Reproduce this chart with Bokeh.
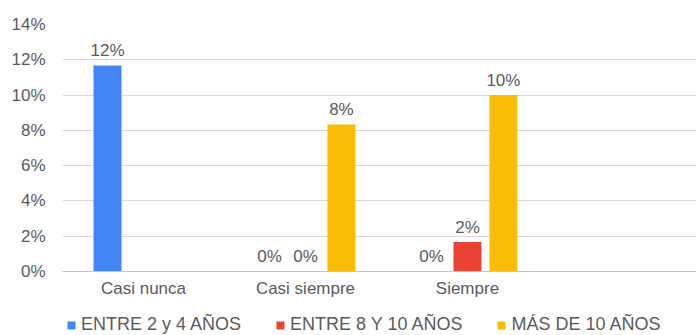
import math
from bokeh.plotting import figure
from bokeh.layouts import column
from bokeh.models import (Range1d, FixedTicker, ColumnDataSource, Legend, LegendItem,
                          NumeralTickFormatter)
from bokeh.core.properties import value
from bokeh.embed import file_html
from bokeh.resources import INLINE

categories = ["Casi nunca", "Casi siempre", "Siempre"]
series_names = ["ENTRE 2 y 4 AÑOS", "ENTRE 8 Y 10 AÑOS", "MÁS DE 10 AÑOS"]
entre_2_4 = [0.1167, 0.0, 0.0]
entre_8_10 = [float("nan"), 0.0, 0.0167]
mas_de_10 = [float("nan"), 0.0833, 0.10]
colors = ["#4285F4", "#EA4335", "#FBBC04"]
y_ticks = [0, 0.02, 0.04, 0.06, 0.08, 0.10, 0.12, 0.14]

FONT = "Liberation Sans"
TXT = "#5b5b5b"

p = figure(width=696, height=305, output_backend="svg", toolbar_location=None,
           x_range=Range1d(0, 3.914), y_range=Range1d(0, 0.14),
           min_border_left=62, min_border_right=0, min_border_top=24, min_border_bottom=34)
p.outline_line_color = None
p.xgrid.grid_line_color = None
p.ygrid.grid_line_color = "#dadada"
p.ygrid.grid_line_width = 1.2
p.ygrid.ticker = FixedTicker(ticks=y_ticks)

p.yaxis.ticker = FixedTicker(ticks=y_ticks)
p.yaxis.formatter = NumeralTickFormatter(format="0%")
p.yaxis.axis_line_color = None
p.yaxis.major_tick_line_color = None
p.yaxis.minor_tick_line_color = None
p.yaxis.major_tick_out = 0
p.yaxis.major_label_standoff = 17
p.yaxis.major_label_text_font = FONT
p.yaxis.major_label_text_font_size = "17px"
p.yaxis.major_label_text_color = TXT

p.xaxis.ticker = FixedTicker(ticks=[i + 0.5 for i in range(len(categories))])
p.xaxis.major_label_overrides = {i + 0.5: c for i, c in enumerate(categories)}
p.xaxis.axis_line_color = "#c6c6c6"
p.xaxis.axis_line_width = 1.2
p.xaxis.major_tick_line_color = None
p.xaxis.minor_tick_line_color = None
p.xaxis.major_tick_out = 0
p.xaxis.major_label_standoff = 7
p.xaxis.major_label_text_font = FONT
p.xaxis.major_label_text_font_size = "17px"
p.xaxis.major_label_text_color = TXT

offsets = [-0.222, 0.0, 0.222]
bar_w = 0.173
for name, vals, off, col in zip(series_names, [entre_2_4, entre_8_10, mas_de_10], offsets, colors):
    xs, tops, labs = [], [], []
    for i, v in enumerate(vals):
        if v is None or (isinstance(v, float) and math.isnan(v)):
            continue
        xs.append(i + 0.5 + off)
        tops.append(v)
        labs.append(f"{round(v * 100):.0f}%")
    src = ColumnDataSource(dict(x=xs, top=tops, lab=labs))
    p.vbar(x="x", top="top", width=bar_w, bottom=0, source=src,
           fill_color=col, line_color=None)
    p.text(x="x", y="top", text="lab", source=src, text_align="center",
           text_baseline="alphabetic", y_offset=-15, text_font=value(FONT),
           text_font_size="17px", text_color=TXT)

# legend strip (its frame is aligned with the chart frame by the column layout)
lg = figure(width=696, height=30, output_backend="svg", toolbar_location=None,
            x_range=Range1d(0, 1), y_range=Range1d(0, 1),
            min_border_left=62, min_border_right=0, min_border_top=0, min_border_bottom=0)
lg.axis.visible = False
lg.grid.grid_line_color = None
lg.outline_line_color = None
items = []
for name, col in zip(series_names, colors):
    r = lg.vbar(x=[5], top=[1], width=0.1, fill_color=col, line_color=None)
    items.append(LegendItem(label=name, renderers=[r]))
legend = Legend(items=items, orientation="horizontal", location=(4, 0),
                glyph_width=10, glyph_height=10, label_standoff=5, spacing=34,
                padding=0, margin=0, border_line_color=None, background_fill_alpha=0,
                label_text_font=FONT, label_text_font_size="18px", label_text_color=TXT)
lg.add_layout(legend, "center")

layout = column(p, lg, spacing=0)
open("out.html", "w").write(file_html(layout, INLINE))
